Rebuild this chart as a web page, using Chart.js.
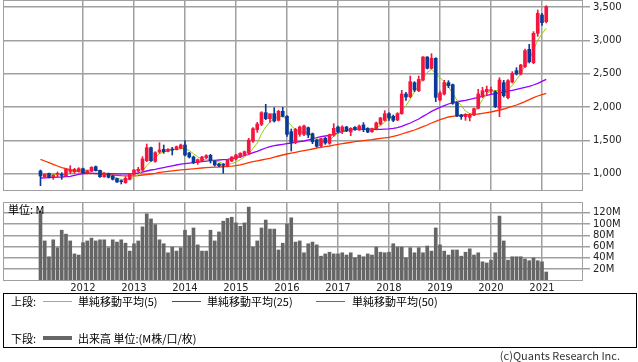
<!DOCTYPE html>
<html><head><meta charset="utf-8">
<script src="https://cdn.jsdelivr.net/npm/chart.js@4.4.1/dist/chart.umd.min.js"></script>
<style>
html,body{margin:0;padding:0;background:#fff;}
#wrap{position:relative;width:638px;height:362px;overflow:hidden;font-family:"Noto Sans CJK JP","Noto Sans",sans-serif;}
canvas{position:absolute;left:0;}
#c1{top:0;}
#c2{top:195px;}
.t{position:absolute;font-size:11px;line-height:12px;color:#000;white-space:nowrap;}
.ln{position:absolute;height:1px;}
#box{position:absolute;left:3px;top:293px;width:632px;height:53px;border:1px solid #000;}
</style></head><body>
<div id="wrap">
<canvas id="c1" width="638" height="191"></canvas>
<canvas id="c2" width="638" height="100"></canvas>
<div class="t" style="left:8px;top:203px;">単位: M</div>
<div id="box"></div>
<div class="t" style="left:11px;top:295px;">上段:</div>
<div class="ln" style="left:43px;top:301px;width:29px;background:#99cc00;"></div>
<div class="t" style="left:78px;top:295px;">単純移動平均(5)</div>
<div class="ln" style="left:172px;top:301px;width:29px;background:#9900ff;"></div>
<div class="t" style="left:207px;top:295px;">単純移動平均(25)</div>
<div class="ln" style="left:316px;top:301px;width:29px;background:#ff3300;"></div>
<div class="t" style="left:352px;top:295px;">単純移動平均(50)</div>
<div class="t" style="left:11px;top:332px;">下段:</div>
<div class="ln" style="left:43px;top:336px;width:29px;height:4px;background:#666;"></div>
<div class="t" style="left:78px;top:332px;">出来高 単位:(M株/口/枚)</div>
<div class="t" style="right:18px;top:349px;color:#333;">(c)Quants Research Inc.</div>
</div>
<script>
// ---- data (monthly, 2011-03 .. 2021-02) ----
const N = 120;
const months = [];
for (let i = 0; i < N; i++) { const m = 2 + i; months.push((2011 + Math.floor(m / 12)) + '-' + String(m % 12 + 1).padStart(2, '0')); }

const openP = [1040,955,1005,955,990,990,965,1035,1030,1045,1075,1005,1035,1105,1050,955,1005,965,925,895,
865,915,990,1040,1055,1195,1390,1185,1325,1365,1335,1365,1360,1380,1430,1310,1250,1165,1195,1240,
1275,1190,1145,1140,1115,1190,1220,1250,1285,1305,1490,1660,1740,1915,1825,1900,1800,1935,1860,1630,
1470,1590,1590,1690,1600,1505,1415,1530,1455,1580,1700,1630,1700,1625,1695,1655,1730,1680,1630,1670,
1745,1800,1900,1860,1805,1900,2195,2155,2365,2245,2405,2750,2580,2730,2105,2195,2365,2335,2065,1880,
1855,1845,1880,1980,2155,2230,2240,2230,1980,2365,2140,2375,2545,2495,2605,2865,2665,3105,3380,3280];
const highP = [1055,1000,1010,985,1025,1015,1075,1120,1080,1090,1085,1050,1105,1115,1055,1015,1010,975,935,905,
955,1000,1060,1095,1255,1445,1400,1330,1465,1430,1375,1395,1415,1445,1495,1320,1265,1220,1260,1285,
1290,1200,1155,1150,1215,1255,1290,1315,1340,1530,1690,1770,1930,2040,1890,1990,1950,1995,1870,1670,
1680,1715,1730,1700,1610,1515,1535,1545,1595,1750,1715,1720,1710,1690,1705,1730,1765,1690,1685,1775,
1845,1945,1915,1880,1915,2250,2220,2465,2380,2465,2755,2755,2800,2740,2240,2400,2395,2345,2075,1890,
1900,1900,1985,2265,2295,2315,2300,2245,2440,2400,2410,2530,2590,2640,2870,2940,3130,3455,3405,3520];
const lowP = [820,945,935,915,945,915,960,1005,1005,1025,1000,995,1030,1040,945,945,935,905,870,845,
855,905,985,1025,1045,1180,1185,1170,1305,1305,1325,1280,1355,1375,1265,1235,1150,1140,1185,1225,
1160,1115,1105,1005,1100,1180,1205,1240,1270,1290,1470,1620,1720,1810,1770,1775,1790,1850,1560,1340,
1450,1560,1570,1540,1450,1395,1400,1440,1440,1560,1610,1600,1630,1570,1650,1650,1630,1615,1620,1655,
1730,1790,1800,1780,1795,1890,2100,2140,2230,2230,2390,2570,2570,2080,2090,2180,2290,2040,1855,1815,
1800,1790,1870,1970,2140,2180,2200,1990,1855,2150,2120,2360,2480,2480,2590,2660,2650,3060,3225,3260];
const closeP = [965,990,945,975,1000,975,1065,1055,1065,1075,1010,1045,1095,1045,955,1005,945,915,875,880,
930,990,1055,1065,1220,1390,1195,1315,1355,1330,1365,1355,1405,1430,1280,1250,1165,1210,1250,1270,
1195,1130,1120,1125,1200,1250,1280,1305,1330,1505,1675,1745,1915,1825,1900,1790,1935,1860,1590,1470,
1665,1700,1715,1580,1480,1410,1525,1460,1585,1680,1625,1700,1640,1680,1660,1715,1660,1625,1675,1760,
1835,1900,1835,1800,1900,2195,2150,2380,2255,2415,2750,2580,2730,2145,2210,2365,2320,2055,1865,1855,
1890,1880,1975,2195,2245,2265,2260,2005,2405,2170,2395,2505,2495,2630,2845,2680,3105,3405,3265,3505];

const ma5 = [1005,1000,995,990,985,980,995,1015,1035,1050,1055,1055,1055,1055,1040,1015,985,955,930,915,
910,920,945,985,1040,1120,1185,1240,1300,1325,1345,1355,1365,1375,1375,1345,1300,1250,1220,1205,
1210,1200,1175,1150,1145,1150,1175,1210,1250,1300,1380,1460,1600,1700,1775,1830,1855,1865,1800,1720,
1660,1630,1620,1605,1570,1530,1490,1470,1500,1560,1610,1640,1655,1660,1665,1665,1670,1665,1665,1690,
1720,1775,1820,1850,1870,1945,2020,2120,2230,2320,2430,2520,2565,2500,2440,2380,2300,2210,2100,2020,
1940,1900,1920,2000,2110,2200,2240,2245,2250,2255,2270,2320,2410,2500,2620,2700,2860,3000,3100,3180];
const ma25 = [935,938,942,945,948,950,955,960,975,990,1000,1003,1005,1005,1005,1003,1000,1000,998,997,
997,998,1000,1010,1025,1040,1055,1065,1080,1092,1105,1118,1130,1142,1150,1158,1165,1172,1180,1188,
1195,1200,1205,1210,1215,1225,1240,1255,1270,1290,1315,1335,1360,1385,1405,1420,1430,1440,1450,1460,
1470,1480,1490,1505,1525,1540,1555,1565,1575,1590,1610,1630,1650,1660,1665,1665,1665,1665,1665,1665,
1665,1668,1672,1680,1690,1710,1735,1760,1790,1820,1860,1895,1935,1965,1995,2020,2045,2065,2080,2090,
2100,2115,2130,2145,2160,2175,2190,2200,2210,2225,2240,2250,2265,2280,2295,2310,2330,2355,2385,2415];
const ma50 = [1215,1190,1165,1140,1115,1090,1075,1060,1045,1030,1020,1010,1005,1000,995,990,985,980,975,970,
968,966,968,972,980,987,995,1005,1018,1028,1035,1042,1050,1056,1062,1067,1072,1078,1085,1090,
1095,1098,1100,1104,1108,1113,1120,1132,1148,1165,1180,1192,1205,1218,1230,1248,1265,1280,1295,1308,
1320,1333,1345,1358,1370,1383,1395,1405,1415,1428,1440,1450,1460,1470,1480,1488,1495,1502,1510,1520,
1530,1538,1545,1560,1575,1595,1615,1635,1655,1680,1705,1730,1760,1785,1810,1830,1850,1860,1870,1875,
1880,1885,1890,1895,1905,1915,1925,1940,1955,1970,1990,2010,2030,2055,2080,2110,2140,2165,2185,2205];

const volume = [122,70,42,72,58,89,82,70,47,45,67,70,75,70,72,72,58,72,68,72,
66,52,65,70,95,118,109,99,72,65,49,59,52,58,89,79,93,63,52,52,
89,70,86,105,110,112,102,96,102,130,59,70,93,107,91,91,54,66,100,111,
68,70,49,65,68,63,43,47,50,47,47,49,45,49,40,45,42,47,45,59,
50,49,50,65,59,59,40,58,49,58,49,61,52,93,63,52,45,54,54,43,
50,56,45,49,33,31,36,49,114,70,36,42,42,42,38,35,40,35,33,15];

const priceTicks = [1000, 1500, 2000, 2500, 3000, 3500];
const volumeTicks = [20, 40, 60, 80, 100, 120];

// ---- chart setup ----
const janIndex = months.map((m, i) => m.endsWith('-01') ? i : -1).filter(i => i >= 0);
const yearLabel = v => { const k = janIndex.indexOf(v); return k >= 0 ? months[v].slice(0, 4) : ''; };
const idx = months.map((_, i) => i);
const UP = '#f5163f', DN = '#0a3a98';
const col = idx.map(i => closeP[i] >= openP[i] ? UP : DN);
const GRID = '#a0a0a0';
const X_MIN = -8.82, X_MAX = 127.65;

Chart.defaults.font.family = 'DejaVu Sans';
Chart.defaults.font.size = 10;
Chart.defaults.color = '#333';

const frame = {
  id: 'frame',
  afterDatasetsDraw(chart) {
    const a = chart.chartArea, c = chart.ctx;
    c.save();
    c.strokeStyle = GRID; c.lineWidth = 1;
    c.strokeRect(Math.round(a.left) + 0.5, Math.round(a.top) + 0.5,
      Math.round(a.right - a.left) - 1, Math.round(a.bottom - a.top) - 1);
    c.restore();
  }
};

function xScale(showLabels) {
  return {
    type: 'linear', min: X_MIN, max: X_MAX, offset: false,
    afterBuildTicks: s => { s.ticks = janIndex.map(v => ({ value: v })); },
    afterFit: s => { s.height = showLabels ? 14 : 0; s.paddingLeft = 0; s.paddingRight = 0; },
    grid: { color: GRID, lineWidth: 1.5, drawTicks: false, offset: false },
    border: { display: false },
    ticks: { display: showLabels, autoSkip: false, maxRotation: 0, padding: 1, color: '#222', callback: yearLabel }
  };
}
function yScale(min, max, ticks, fmt) {
  return {
    position: 'right', min: min, max: max,
    afterBuildTicks: s => { s.ticks = ticks.map(v => ({ value: v })); },
    afterFit: s => { s.width = 55; s.paddingTop = 0; s.paddingBottom = 0; },
    grid: { color: GRID, lineWidth: 1.5, tickLength: 7 },
    border: { display: false },
    ticks: { padding: 3, color: '#222', callback: fmt }
  };
}
const common = {
  responsive: false, animation: false, devicePixelRatio: 1, events: [],
  plugins: { legend: { display: false }, tooltip: { enabled: false } }
};

new Chart(document.getElementById('c1'), {
  type: 'bar',
  data: {
    datasets: [
      { type: 'bar', data: idx.map(i => ({ x: i, y: [openP[i], closeP[i]] })), backgroundColor: col,
        barThickness: 3, minBarLength: 1, grouped: false, order: 0 },
      { type: 'bar', data: idx.map(i => ({ x: i, y: [lowP[i], highP[i]] })), backgroundColor: col,
        barThickness: 1, grouped: false, order: 1 },
      { type: 'line', data: idx.map(i => ({ x: i, y: ma5[i] })), borderColor: '#99cc00', borderWidth: 1,
        pointRadius: 0, tension: 0, order: 2 },
      { type: 'line', data: idx.map(i => ({ x: i, y: ma25[i] })), borderColor: '#9900ff', borderWidth: 1.3,
        pointRadius: 0, tension: 0, order: 3 },
      { type: 'line', data: idx.map(i => ({ x: i, y: ma50[i] })), borderColor: '#ff3300', borderWidth: 1.3,
        pointRadius: 0, tension: 0, order: 4 }
    ]
  },
  options: Object.assign({}, common, {
    layout: { padding: { left: 3, top: 0, right: 0, bottom: 0 } },
    scales: {
      x: xScale(false),
      y: yScale(740, 3605, priceTicks, v => v.toLocaleString('en-US'))
    }
  }),
  plugins: [frame]
});

new Chart(document.getElementById('c2'), {
  type: 'bar',
  data: {
    datasets: [
      { data: idx.map(i => ({ x: i, y: volume[i] })), backgroundColor: '#666666', barThickness: 3 }
    ]
  },
  options: Object.assign({}, common, {
    layout: { padding: { left: 3, top: 7, right: 0, bottom: 0 } },
    scales: {
      x: xScale(true),
      y: yScale(-1, 139, volumeTicks, v => v + 'M')
    }
  }),
  plugins: [frame]
});
</script>
</body></html>
